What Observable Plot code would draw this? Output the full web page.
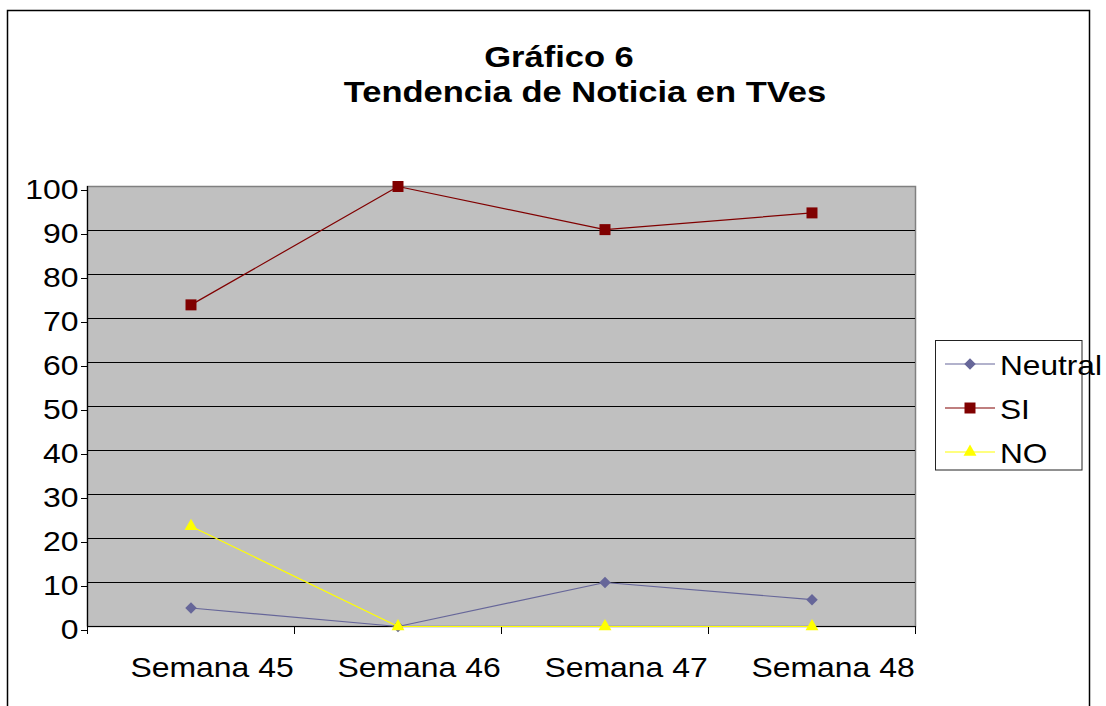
<!DOCTYPE html>
<html><head><meta charset="utf-8">
<script src="https://cdn.jsdelivr.net/npm/d3@7"></script>
<script src="https://cdn.jsdelivr.net/npm/@observablehq/plot@0.6"></script>
<style>
body{margin:0;background:#fff;}
#chart{position:relative;width:1106px;height:706px;overflow:hidden;}
</style>
</head><body><div id="chart"></div>
<script>
const titleLines = ["Gráfico 6", "Tendencia de Noticia en TVes"];
const weeks = ["Semana 45", "Semana 46", "Semana 47", "Semana 48"];
const seriesNames = ["Neutral", "SI", "NO"];
const neutral = [4.2, 0, 10, 6.1];
const si = [73.1, 100, 90.2, 94.0];
const no = [22.8, 0, 0, 0];
const colors = ["#666699", "#800000", "#FFFF00"];
const symbols = ["diamond2", "square", "triangle"];
const symbolR = [5.2, 6.2, 4.8];
const yTicks = d3.range(0, 101, 10);

const values = [neutral, si, no];
const data = seriesNames.flatMap((s, k) => weeks.map((w, i) => ({series: s, week: w, value: values[k][i]})));
const xPos = d => weeks.indexOf(d.week) + 0.5;
const FONT = "Arial, 'Liberation Sans', sans-serif";

const seriesMarks = seriesNames.flatMap((s, k) => {
  const rows = data.filter(d => d.series === s);
  return [
    Plot.line(rows, {x: xPos, y: "value", stroke: colors[k], strokeWidth: 1.2}),
    Plot.dot(rows, {x: xPos, y: "value", symbol: symbols[k], r: symbolR[k], fill: colors[k], stroke: "none"})
  ];
});

const svg = Plot.plot({
  width: 1106, height: 706,
  marginLeft: 87, marginRight: 191, marginTop: 186, marginBottom: 80,
  style: {fontFamily: FONT, background: "transparent", color: "#000"},
  x: {type: "linear", domain: [0, weeks.length]},
  y: {domain: [0, 100]},
  marks: [
    Plot.frame({fill: "#C0C0C0", stroke: "#808080", strokeWidth: 1.5}),
    Plot.ruleY(yTicks.filter(v => v > 0 && v < 100), {stroke: "#000", strokeWidth: 1}),
    Plot.ruleX([0], {stroke: "#000", strokeWidth: 1.2}),
    Plot.ruleY([0], {stroke: "#000", strokeWidth: 1.2}),
    Plot.axisY({ticks: yTicks, tickSize: 6, tickPadding: 3, fontSize: 28, dy: 4, label: null}),
    Plot.axisX({ticks: d3.range(0, weeks.length + 1), tickSize: 8, tickFormat: () => "", label: null}),
    Plot.axisX({ticks: weeks.map((w, i) => i + 0.5), tickSize: 0, tickPadding: 31, fontSize: 28, dx: 21,
                tickFormat: v => weeks[Math.floor(v)], label: null}),
    ...seriesMarks
  ]
});
document.getElementById("chart").appendChild(svg);

function stretch(sel, f) {
  sel.each(function() {
    const L = this.getComputedTextLength();
    if (L > 0) {
      this.setAttribute("textLength", L * f);
      this.setAttribute("lengthAdjust", "spacingAndGlyphs");
    }
  });
}
const root = d3.select(svg);
stretch(root.selectAll("text"), 1.14);

// outer chart border
root.append("rect").attr("x", 7.5).attr("y", 10.5).attr("width", 1082).attr("height", 730)
  .attr("fill", "none").attr("stroke", "#000").attr("stroke-width", 1.5);

// title
const title = root.append("g").attr("font-family", FONT).attr("font-weight", "bold")
  .attr("font-size", 30).attr("text-anchor", "middle").attr("fill", "#000");
title.append("text").attr("x", 559).attr("y", 67).text(titleLines[0]);
title.append("text").attr("x", 585).attr("y", 102).text(titleLines[1]);
stretch(title.selectAll("text"), 1.15);

// legend
const lg = root.append("g").attr("font-family", FONT).attr("font-size", 28).attr("text-anchor", "start");
lg.append("rect").attr("x", 935.5).attr("y", 340.5).attr("width", 146.5).attr("height", 129.5)
  .attr("fill", "#fff").attr("stroke", "#222").attr("stroke-width", 1);
const symFns = {diamond2: d3.symbolDiamond2, square: d3.symbolSquare, triangle: d3.symbolTriangle};
seriesNames.forEach((s, k) => {
  const yRow = 364 + k * 44;
  lg.append("line").attr("x1", 945).attr("x2", 995).attr("y1", yRow).attr("y2", yRow)
    .attr("stroke", colors[k]).attr("stroke-width", 1.2);
  lg.append("path").attr("transform", `translate(970,${yRow})`)
    .attr("d", d3.symbol(symFns[symbols[k]], Math.PI * symbolR[k] * symbolR[k])())
    .attr("fill", colors[k]);
  lg.append("text").attr("x", 1000).attr("y", yRow + 10.5).attr("fill", "#000").text(s);
});
stretch(lg.selectAll("text"), 1.13);
</script>
</body></html>
